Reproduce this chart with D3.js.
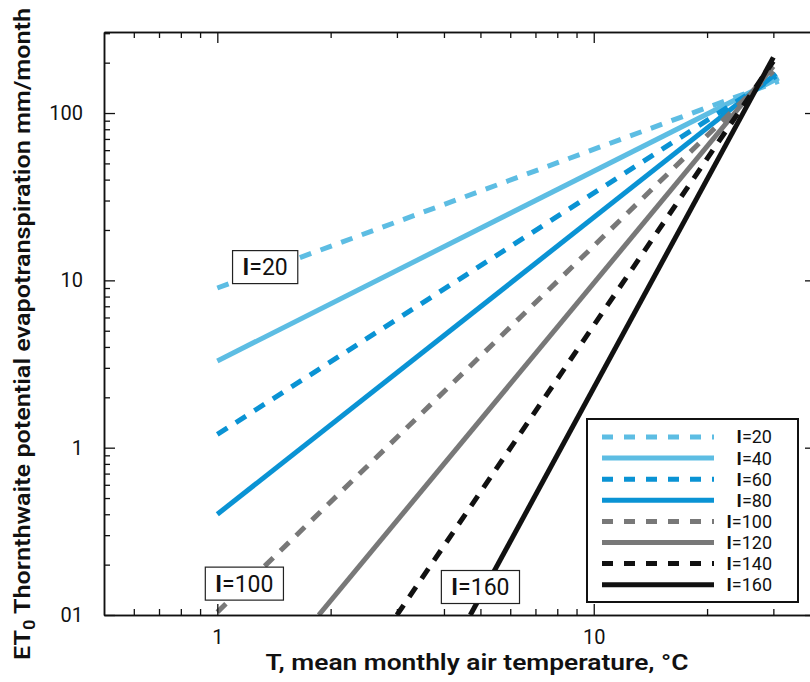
<!DOCTYPE html>
<html>
<head>
<meta charset="utf-8">
<script src="https://cdn.jsdelivr.net/npm/d3@7"></script>
<style>
  html, body { margin: 0; padding: 0; background: #fff; }
  svg { display: block; }
  text { font-family: Roboto, "Noto Sans", sans-serif; fill: #111; }
</style>
</head>
<body>
<svg id="chart" width="810" height="682"></svg>
<script>
// ---- data ----
const heatIndex = [20, 40, 60, 80, 100, 120, 140, 160];
const seriesNames = ["I=20", "I=40", "I=60", "I=80", "I=100", "I=120", "I=140", "I=160"];
const startT  = [1, 1, 1, 1, 1, 1.86, 3.0, 4.7];
const startET = [9.0, 3.3, 1.2, 0.40, 0.104, 0.1, 0.1, 0.1];
const endT    = [31, 31, 30.5, 30.5, 30, 30, 30, 30];
const endET   = [155, 162, 166, 172, 178, 190, 204, 215];

const xMajorTicks = [1, 10];
const xTickLabels = ["1", "10"];
const yMajorTicks = [0.1, 1, 10, 100];
const yTickLabels = ["01", "1", "10", "100"];

const annotNames = ["I=20", "I=100", "I=160"];
const annotT  = [1.34, 1.18, 5.0];
const annotET = [12.0, 0.154, 0.147];

// ---- styles ----
const colors = ["#5dbde3", "#5dbde3", "#0a93d4", "#0a93d4", "#787878", "#787878", "#111111", "#111111"];
const dashed = [true, false, true, false, true, false, true, false];

const svg = d3.select("#chart");
const pL = 104, pR = 812, pT = 32, pB = 615;

const x = d3.scaleLog().domain([0.5, 38]).range([pL, pR]);
const y = d3.scaleLog().domain([0.1, 305]).range([pB, pT]);

// clip
svg.append("clipPath").attr("id", "clip")
  .append("rect").attr("x", pL).attr("y", pT).attr("width", pR - pL).attr("height", pB - pT);

// lines
const line = d3.line().x(d => x(d[0])).y(d => y(d[1]));
const gLines = svg.append("g").attr("clip-path", "url(#clip)");
heatIndex.forEach((I, i) => {
  gLines.append("path")
    .attr("d", line([[startT[i], startET[i]], [endT[i], endET[i]]]))
    .attr("fill", "none")
    .attr("stroke", colors[i])
    .attr("stroke-width", 5)
    .attr("stroke-dasharray", dashed[i] ? "12,10" : null);
});

// minor ticks
const xMinor = [];
[0.1, 1, 10].forEach(d => { for (let k = 1; k <= 9; k++) { const v = +(d * k).toFixed(3); if (v > 0.5 && v < 38 && !xMajorTicks.includes(v)) xMinor.push(v); } });
const yMinor = [];
[0.1, 1, 10, 100].forEach(d => { for (let k = 2; k <= 9; k++) { const v = +(d * k).toFixed(3); if (v < 305) yMinor.push(v); } });

const axisStyle = g => {
  g.select(".domain").attr("stroke", "#111").attr("stroke-width", 1.5);
  g.selectAll(".tick line").attr("stroke", "#111").attr("stroke-width", 1.3);
};

// bottom
svg.append("g").attr("transform", `translate(0,${pB})`)
  .call(d3.axisBottom(x).tickValues(xMinor).tickSize(-6).tickFormat("").tickSizeOuter(0)).call(axisStyle);
svg.append("g").attr("transform", `translate(0,${pB})`)
  .call(d3.axisBottom(x).tickValues(xMajorTicks).tickSize(-11).tickSizeOuter(0)
    .tickFormat((d, i) => xTickLabels[i]).tickPadding(15))
  .call(axisStyle)
  .call(g => g.selectAll(".tick text").attr("font-size", 20).attr("dy", "0.71em").style("font-family", "Roboto"));
// top
svg.append("g").attr("transform", `translate(0,${pT})`)
  .call(d3.axisTop(x).tickValues(xMinor).tickSize(-6).tickFormat("").tickSizeOuter(0)).call(axisStyle);
svg.append("g").attr("transform", `translate(0,${pT})`)
  .call(d3.axisTop(x).tickValues(xMajorTicks).tickSize(-11).tickFormat("").tickSizeOuter(0)).call(axisStyle);
// left
svg.append("g").attr("transform", `translate(${pL},0)`)
  .call(d3.axisLeft(y).tickValues(yMinor).tickSize(-6).tickFormat("").tickSizeOuter(0)).call(axisStyle);
svg.append("g").attr("transform", `translate(${pL},0)`)
  .call(d3.axisLeft(y).tickValues(yMajorTicks).tickSize(-11).tickSizeOuter(0)
    .tickFormat((d, i) => yTickLabels[i]).tickPadding(21))
  .call(axisStyle)
  .call(g => g.selectAll(".tick text").attr("font-size", 20).style("font-family", "Roboto"));
// right (major ticks only)
svg.append("g").attr("transform", `translate(${pR},0)`)
  .call(d3.axisRight(y).tickValues(yMajorTicks).tickSize(-7).tickFormat("").tickSizeOuter(0)).call(axisStyle);

// label text with heavier "I" as in the reference
function labelText(sel, name) {
  sel.append("tspan").attr("font-weight", 700).text(name.slice(0, 1));
  sel.append("tspan").text(name.slice(1));
}

// annotation boxes
annotNames.forEach((name, i) => {
  const g = svg.append("g").attr("transform", `translate(${x(annotT[i])},${y(annotET[i])})`);
  const t = g.append("text").attr("text-anchor", "middle").attr("dy", "0.36em")
    .attr("font-size", 23);
  labelText(t, name);
  const bb = t.node().getBBox();
  g.insert("rect", "text")
    .attr("x", bb.x - 10).attr("y", -bb.height / 2 - 3)
    .attr("width", bb.width + 20).attr("height", bb.height + 6)
    .attr("fill", "#fff").attr("stroke", "#222").attr("stroke-width", 1.2);
});

// legend
const lg = svg.append("g");
lg.append("rect").attr("x", 587).attr("y", 419).attr("width", 211).attr("height", 183)
  .attr("fill", "#fff").attr("stroke", "#111").attr("stroke-width", 2);
seriesNames.forEach((name, i) => {
  const yy = 437 + i * 21.1;
  lg.append("line").attr("x1", 602).attr("x2", 714).attr("y1", yy).attr("y2", yy)
    .attr("stroke", colors[i]).attr("stroke-width", 5)
    .attr("stroke-dasharray", dashed[i] ? "11,11" : null);
  const t = lg.append("text").attr("x", 772).attr("y", yy).attr("dy", "0.36em")
    .attr("text-anchor", "end").attr("font-size", 18);
  labelText(t, name);
});

// axis titles
svg.append("text").attr("x", 477).attr("y", 670).attr("text-anchor", "middle")
  .attr("font-size", 22).attr("font-weight", 600)
  .attr("textLength", 423).attr("lengthAdjust", "spacingAndGlyphs")
  .text("T, mean monthly air temperature, °C");

const yt = svg.append("text").attr("transform", "translate(30,334) rotate(-90)")
  .attr("text-anchor", "middle").attr("font-size", 22).attr("font-weight", 600)
  .attr("textLength", 652).attr("lengthAdjust", "spacingAndGlyphs");
yt.append("tspan").text("ET");
yt.append("tspan").attr("font-size", 16).attr("dy", 5).text("0");
yt.append("tspan").attr("dy", -5).text(" Thornthwaite potential evapotranspiration mm/month");
</script>
</body>
</html>
